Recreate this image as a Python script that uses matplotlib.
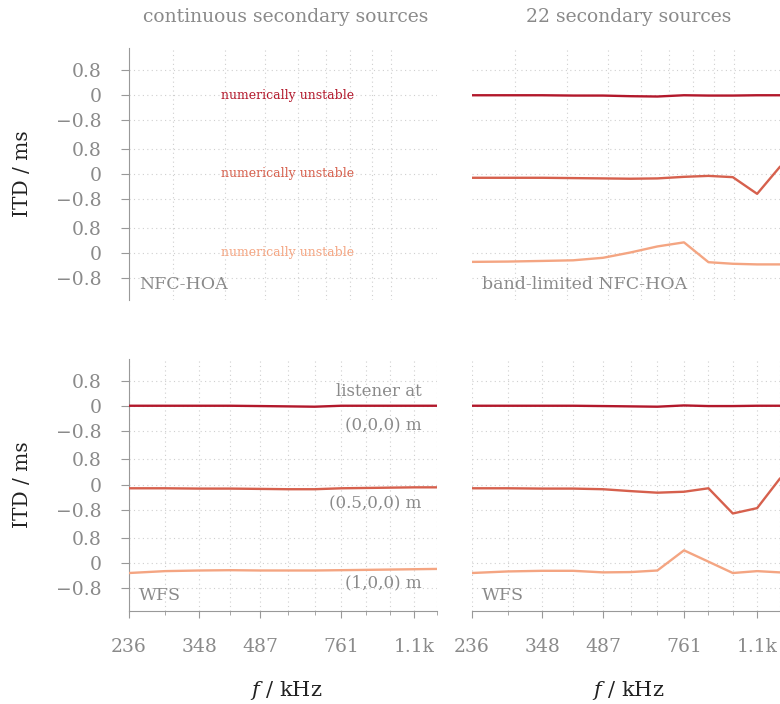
import matplotlib.pyplot as plt
from matplotlib.ticker import FixedLocator, NullFormatter

plt.rcParams['font.family'] = 'DejaVu Serif'
plt.rcParams['mathtext.fontset'] = 'dejavuserif'

# centre frequencies of the auditory filters
freqs = [236, 288, 348, 413, 487, 567, 657, 761, 871, 996, 1139, 1290]
freq_ticks = [236, 348, 487, 761, 1139]
freq_labels = ['236', '348', '487', '761', '1.1k']
top_grid_freqs = [300, 400, 500, 600, 700, 800, 900, 1000]

listener_pos = ['(0,0,0) m', '(0.5,0,0) m', '(1,0,0) m']
colors = ['#b2182b', '#d6604d', '#f4a582']

# ITD in ms, one row per listener position
hoa_22 = [
    [0.0, 0.0, 0.0, -0.01, -0.01, -0.03, -0.04, 0.0, -0.01, -0.01, 0.0, 0.0],
    [-0.12, -0.12, -0.12, -0.13, -0.14, -0.15, -0.14, -0.09, -0.06, -0.10, -0.63, 0.22],
    [-0.29, -0.28, -0.26, -0.24, -0.16, 0.01, 0.20, 0.33, -0.30, -0.35, -0.37, -0.37],
]
wfs_cont = [
    [0.0, 0.0, 0.0, 0.0, -0.01, -0.02, -0.03, 0.0, 0.0, 0.0, 0.0, 0.0],
    [-0.12, -0.12, -0.13, -0.13, -0.14, -0.15, -0.15, -0.12, -0.11, -0.10, -0.09, -0.09],
    [-0.31, -0.25, -0.23, -0.22, -0.23, -0.23, -0.23, -0.22, -0.21, -0.20, -0.19, -0.18],
]
wfs_22 = [
    [0.0, 0.0, 0.0, 0.0, -0.01, -0.02, -0.03, 0.01, -0.01, -0.01, 0.0, 0.0],
    [-0.12, -0.12, -0.13, -0.13, -0.15, -0.21, -0.26, -0.23, -0.12, -0.92, -0.75, 0.18],
    [-0.31, -0.26, -0.24, -0.24, -0.29, -0.28, -0.23, 0.41, 0.05, -0.31, -0.25, -0.29],
]

offsets = [0, -2.5, -5.0]
grey = '#8a8a8a'
yticks = [o + t for o in offsets for t in (0.8, 0, -0.8)]
ylabels = ['0.8', '0', '\u22120.8'] * 3

fig = plt.figure(figsize=(7.8, 7.04), dpi=100)
W, H = 780, 704
lefts = [129, 471.7]
tops = [48, 358.5]
axes = {}
for r, top in enumerate(tops):
    for c, left in enumerate(lefts):
        ax = fig.add_axes([left / W, 1 - (top + 252) / H, 308 / W, 252 / H])
        axes[r, c] = ax
        ax.set_xscale('log')
        ax.set_xlim(freqs[0], freqs[-1])
        ax.set_ylim(-6.5, 1.5)
        for s in ['top', 'right']:
            ax.spines[s].set_visible(False)
        for s in ['left', 'bottom']:
            ax.spines[s].set_color('#999999')
        ax.set_yticks(yticks)
        ax.set_yticklabels(ylabels)
        ax.tick_params(axis='y', length=6, color='#999999', labelcolor=grey,
                       labelsize=13.5, pad=13.5)
        if c == 1:
            ax.spines['left'].set_visible(False)
            ax.tick_params(axis='y', left=False, labelleft=False)
        if r == 0:
            ax.spines['bottom'].set_visible(False)
            ax.set_xticks(top_grid_freqs)
            ax.xaxis.set_minor_locator(FixedLocator([]))
            ax.tick_params(axis='x', which='both', length=0, labelbottom=False)
            ax.grid(True, axis='x', which='major', color='#cfcfcf', lw=0.8, ls=(0, (1, 3)))
        else:
            ax.set_xticks(freq_ticks)
            ax.set_xticklabels(freq_labels)
            ax.xaxis.set_minor_locator(FixedLocator([f for f in freqs if f not in freq_ticks]))
            ax.xaxis.set_minor_formatter(NullFormatter())
            ax.tick_params(axis='x', which='major', length=5, color='#999999',
                           labelcolor=grey, labelsize=13.5, pad=15)
            ax.tick_params(axis='x', which='minor', length=3, color='#999999')
            ax.grid(True, axis='x', which='both', color='#cfcfcf', lw=0.8, ls=(0, (1, 3)))
        ax.grid(True, axis='y', color='#cfcfcf', lw=0.8, ls=(0, (1, 3)))
        ax.set_axisbelow(True)

# NFC-HOA, continuous: no results
ax = axes[0, 0]
for o, col in zip(offsets, colors):
    ax.text(0.514, o, 'numerically unstable', color=col, fontsize=9,
            ha='center', va='center', transform=ax.get_yaxis_transform())

for ax, data in [(axes[0, 1], hoa_22), (axes[1, 0], wfs_cont), (axes[1, 1], wfs_22)]:
    for vals, o, col in zip(data, offsets, colors):
        ax.plot(freqs, [v + o for v in vals], color=col, lw=1.7, zorder=3)

# panel names
for ax, name in [(axes[0, 0], 'NFC-HOA'), (axes[0, 1], 'band-limited NFC-HOA'),
                 (axes[1, 0], 'WFS'), (axes[1, 1], 'WFS')]:
    ax.text(0.032, -6.02, name, color=grey, fontsize=12.5, ha='left', va='center',
            transform=ax.get_yaxis_transform())

# listener positions
ax = axes[1, 0]
ax.text(0.95, 0.44, 'listener at', color=grey, fontsize=12, ha='right', va='center',
        transform=ax.get_yaxis_transform())
for o, lab in zip(offsets, listener_pos):
    ax.text(0.95, o - 0.63, lab, color=grey, fontsize=12, ha='right', va='center',
            transform=ax.get_yaxis_transform())

# column titles and axis labels
for left, title in zip(lefts, ['continuous secondary sources', '22 secondary sources']):
    cx = (left + 157) / W
    fig.text(cx, 1 - 17 / H, title, color=grey, fontsize=13.5, ha='center', va='center')
    fig.text(cx, 1 - 690 / H, '$f$ / kHz', color='#222222', fontsize=15,
             ha='center', va='center')
for top in tops:
    fig.text(23 / W, 1 - (top + 126) / H, 'ITD / ms', color='#222222', fontsize=14.5,
             rotation=90, ha='center', va='center')

fig.savefig('out.png', dpi=100)
